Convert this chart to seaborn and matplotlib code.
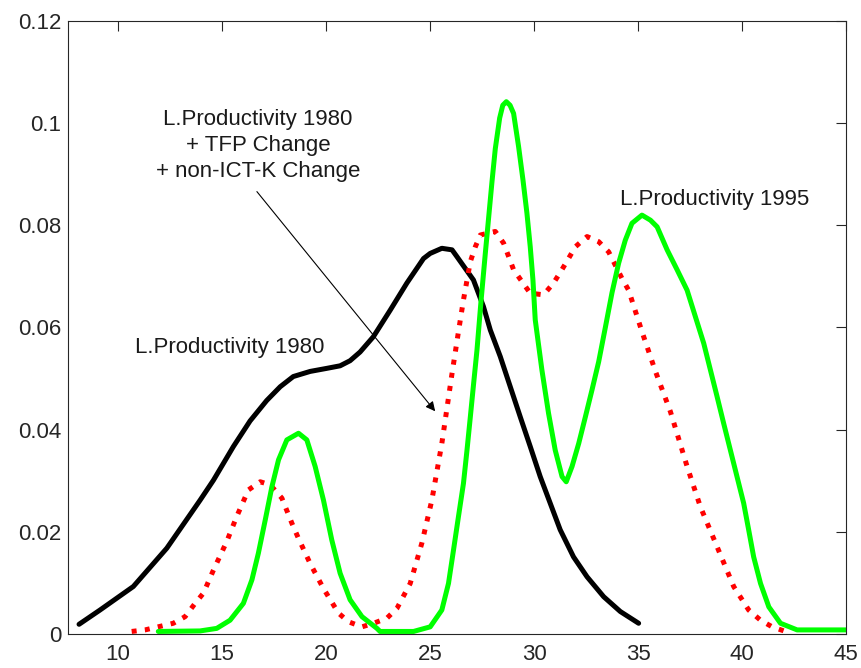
import numpy as np
import pandas as pd
import matplotlib
matplotlib.use("Agg")
import matplotlib.pyplot as plt
import seaborn as sns

# L.Productivity 1980 (black)
x_1980 = [8.13, 9.14, 10.74, 12.35, 13.95, 14.59, 15.55, 16.35, 17.15, 17.8, 18.43,
          19.24, 20.04, 20.68, 21.16, 21.64, 22.28, 23.09, 23.89, 24.69, 25.01, 25.57,
          26.06, 26.29, 27.09, 27.57, 27.9, 28.38, 28.86, 29.34, 29.82, 30.3, 30.78,
          31.26, 31.9, 32.55, 33.35, 34.15, 35.03]
y_1980 = [0.0019, 0.0047, 0.0093, 0.0168, 0.0262, 0.0301, 0.0367, 0.0417, 0.0457,
          0.0484, 0.0504, 0.0514, 0.0520, 0.0525, 0.0535, 0.0552, 0.0582, 0.0634, 0.0687,
          0.0735, 0.0745, 0.0755, 0.0752, 0.0739, 0.0693, 0.0641, 0.0595, 0.0543, 0.0484,
          0.0425, 0.0367, 0.0308, 0.0256, 0.0204, 0.0151, 0.0112, 0.0073, 0.0044, 0.0021]

# L.Productivity 1980 + TFP Change + non-ICT-K Change (red dotted)
x_counter = [10.66, 11.3, 12.66, 13.23, 13.71, 14.11, 14.59, 15.23, 15.71, 16.27, 16.84,
             17.32, 17.88, 18.36, 18.68, 19.24, 19.88, 20.6, 21.08, 21.73, 22.29, 22.93,
             23.41, 24.05, 24.61, 25.09, 25.57, 26.06, 26.37, 26.61, 26.94, 27.18, 27.42,
             28.14, 28.54, 29.02, 29.42, 29.82, 30.46, 30.94, 31.34, 31.66, 31.99, 32.55,
             33.11, 33.59, 34.23, 34.55, 35.19, 35.84, 36.56, 37.36, 38.0, 38.8, 39.6,
             40.32, 40.89, 41.45, 42.09]
y_counter = [0.0005, 0.0008, 0.0021, 0.0034, 0.0060, 0.0080, 0.0125, 0.0181, 0.0230, 0.0282,
             0.0298, 0.0292, 0.0266, 0.0217, 0.0187, 0.0138, 0.0089, 0.0041, 0.0024, 0.0014,
             0.0021, 0.0031, 0.0050, 0.0099, 0.0178, 0.0262, 0.0373, 0.0510, 0.0592, 0.0654,
             0.0729, 0.0758, 0.0781, 0.0788, 0.0765, 0.0713, 0.0690, 0.0667, 0.0664, 0.0687,
             0.0713, 0.0735, 0.0758, 0.0778, 0.0768, 0.0748, 0.0696, 0.0673, 0.0592, 0.0514,
             0.0435, 0.0328, 0.0249, 0.0171, 0.0093, 0.0047, 0.0027, 0.0014, 0.0005]

# L.Productivity 1995 (green)
x_1995 = [11.94, 13.95, 14.75, 15.39, 16.03, 16.44, 16.75, 17.08, 17.4, 17.72, 18.12, 18.68,
          19.08, 19.48, 19.88, 20.28, 20.68, 21.16, 21.73, 22.45, 22.6, 24.21, 25.01, 25.57,
          25.89, 26.13, 26.37, 26.61, 26.78, 26.94, 27.1, 27.26, 27.45, 27.66, 27.82, 27.98,
          28.14, 28.35, 28.5, 28.67, 28.85, 29.02, 29.26, 29.47, 29.66, 29.82, 29.95, 30.06,
          30.38, 30.7, 31.02, 31.35, 31.55, 31.83, 32.15, 32.47, 32.79, 33.11, 33.43, 33.75,
          34.07, 34.39, 34.71, 35.19, 35.6, 35.92, 36.4, 36.88, 37.36, 37.76, 38.16, 38.48,
          38.8, 39.12, 39.44, 39.76, 40.08, 40.32, 40.56, 40.89, 41.29, 41.85, 42.65, 45.0]
y_1995 = [0.0005, 0.0006, 0.0011, 0.0027, 0.0060, 0.0106, 0.0158, 0.0223, 0.0288, 0.0341,
          0.0380, 0.0393, 0.0380, 0.0328, 0.0262, 0.0184, 0.0119, 0.0067, 0.0034, 0.0011,
          0.0005, 0.0005, 0.0014, 0.0047, 0.0099, 0.0164, 0.0230, 0.0295, 0.0360, 0.0425,
          0.0491, 0.0556, 0.0650, 0.0745, 0.0815, 0.0885, 0.0950, 0.1010, 0.1035, 0.1042,
          0.1035, 0.1019, 0.0954, 0.0889, 0.0824, 0.0758, 0.0693, 0.0615, 0.0517, 0.0432,
          0.0360, 0.0308, 0.0298, 0.0328, 0.0373, 0.0425, 0.0478, 0.0533, 0.0600, 0.0668,
          0.0726, 0.0771, 0.0804, 0.0820, 0.0810, 0.0797, 0.0752, 0.0713, 0.0673, 0.0621,
          0.0569, 0.0517, 0.0465, 0.0412, 0.0360, 0.0308, 0.0256, 0.0204, 0.0151, 0.0099,
          0.0053, 0.0021, 0.0008, 0.0008]

x_ticks = [10, 15, 20, 25, 30, 35, 40, 45]
y_ticks = [0, 0.02, 0.04, 0.06, 0.08, 0.1, 0.12]

sns.set_theme(style="white")
plt.rcParams['font.family'] = ['Liberation Sans', 'DejaVu Sans']

fig = plt.figure(figsize=(8.61, 6.68), dpi=100)
ax = fig.add_axes([0.079, 0.0509, 0.9036, 0.9177])

sns.lineplot(x=x_1980, y=y_1980, color='black', linewidth=3.6, sort=False,
             estimator=None, ax=ax, solid_joinstyle='round')
sns.lineplot(x=x_counter, y=y_counter, color='#ff0000', linewidth=3.6, linestyle=':',
             sort=False, estimator=None, ax=ax)
sns.lineplot(x=x_1995, y=y_1995, color='#00ff00', linewidth=3.6, sort=False,
             estimator=None, ax=ax, solid_joinstyle='round')

ax.set_xlim(7.6, 45)
ax.set_ylim(0, 0.12)
ax.set_xticks(x_ticks)
ax.set_yticks(y_ticks)
ax.set_xticklabels([str(t) for t in x_ticks])
ax.set_yticklabels(['%g' % t for t in y_ticks])
ax.tick_params(direction='in', length=7, width=0.8, top=True, right=True,
               labelsize=16, colors='#262626')
ax.tick_params(axis='x', pad=7)
ax.tick_params(axis='y', pad=5)
for s in ax.spines.values():
    s.set_color('#262626')
    s.set_linewidth(0.8)

# labels
ax.text(16.74, 0.0956, "L.Productivity 1980\n+ TFP Change\n+ non-ICT-K Change",
        ha='center', va='center', multialignment='center', linespacing=1.3,
        fontsize=16, color='#1a1a1a')
ax.annotate('', xy=(25.25, 0.0436), xytext=(16.68, 0.0866),
            arrowprops=dict(arrowstyle='-|>', color='black', lw=0.8,
                            mutation_scale=14, shrinkA=0, shrinkB=0))
ax.text(15.39, 0.0561, "L.Productivity 1980", ha='center', va='center',
        fontsize=16, color='#1a1a1a')
ax.text(38.67, 0.085, "L.Productivity 1995", ha='center', va='center',
        fontsize=16, color='#1a1a1a')

plt.savefig("out.png", dpi=100)
